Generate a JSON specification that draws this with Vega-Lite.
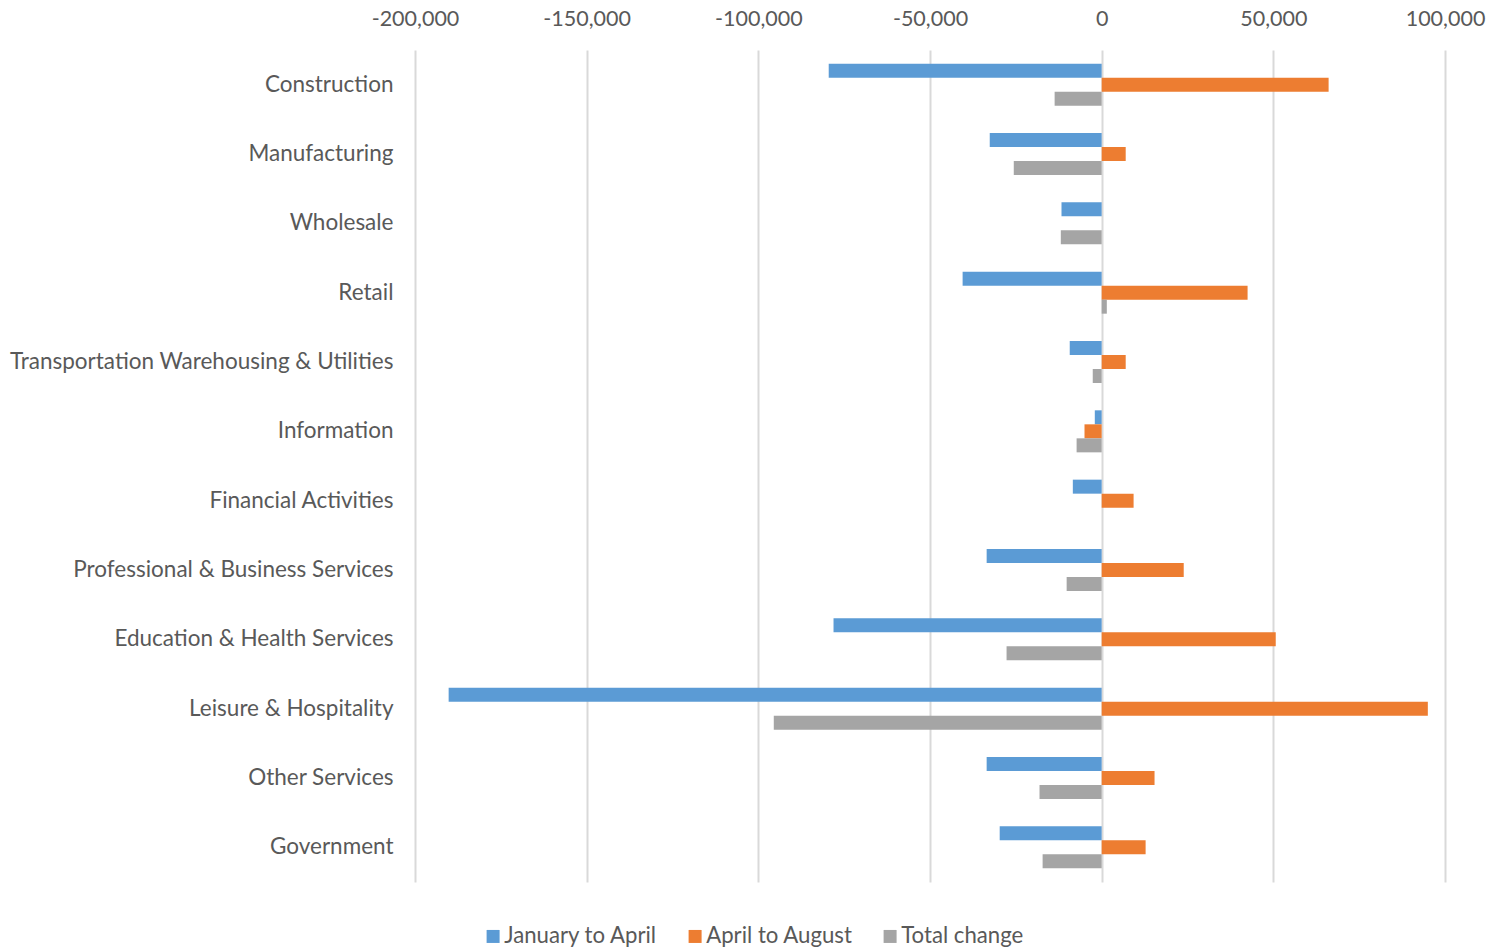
{
  "$schema": "https://vega.github.io/schema/vega-lite/v6.json",
  "width": 1030,
  "height": 832,
  "autosize": "none",
  "padding": {"left": 415, "top": 50, "right": 44, "bottom": 65},
  "background": "white",
  "config": {
    "view": {"stroke": null},
    "font": "Lato"
  },
  "data": {
    "values": [
      {"sector": "Construction", "series": "January to April", "value": -79500},
      {"sector": "Construction", "series": "April to August", "value": 66100},
      {"sector": "Construction", "series": "Total change", "value": -13700},
      {"sector": "Manufacturing", "series": "January to April", "value": -32600},
      {"sector": "Manufacturing", "series": "April to August", "value": 7000},
      {"sector": "Manufacturing", "series": "Total change", "value": -25600},
      {"sector": "Wholesale", "series": "January to April", "value": -11700},
      {"sector": "Wholesale", "series": "April to August", "value": 0},
      {"sector": "Wholesale", "series": "Total change", "value": -11900},
      {"sector": "Retail", "series": "January to April", "value": -40500},
      {"sector": "Retail", "series": "April to August", "value": 42500},
      {"sector": "Retail", "series": "Total change", "value": 1500},
      {"sector": "Transportation Warehousing & Utilities", "series": "January to April", "value": -9300},
      {"sector": "Transportation Warehousing & Utilities", "series": "April to August", "value": 7000},
      {"sector": "Transportation Warehousing & Utilities", "series": "Total change", "value": -2600},
      {"sector": "Information", "series": "January to April", "value": -2000},
      {"sector": "Information", "series": "April to August", "value": -5000},
      {"sector": "Information", "series": "Total change", "value": -7300},
      {"sector": "Financial Activities", "series": "January to April", "value": -8400},
      {"sector": "Financial Activities", "series": "April to August", "value": 9300},
      {"sector": "Financial Activities", "series": "Total change", "value": 0},
      {"sector": "Professional & Business Services", "series": "January to April", "value": -33500},
      {"sector": "Professional & Business Services", "series": "April to August", "value": 23900},
      {"sector": "Professional & Business Services", "series": "Total change", "value": -10200},
      {"sector": "Education & Health Services", "series": "January to April", "value": -78100},
      {"sector": "Education & Health Services", "series": "April to August", "value": 50700},
      {"sector": "Education & Health Services", "series": "Total change", "value": -27700},
      {"sector": "Leisure & Hospitality", "series": "January to April", "value": -190200},
      {"sector": "Leisure & Hospitality", "series": "April to August", "value": 95000},
      {"sector": "Leisure & Hospitality", "series": "Total change", "value": -95500},
      {"sector": "Other Services", "series": "January to April", "value": -33500},
      {"sector": "Other Services", "series": "April to August", "value": 15400},
      {"sector": "Other Services", "series": "Total change", "value": -18100},
      {"sector": "Government", "series": "January to April", "value": -29700},
      {"sector": "Government", "series": "April to August", "value": 12800},
      {"sector": "Government", "series": "Total change", "value": -17200}
    ]
  },
  "mark": {"type": "bar"},
  "encoding": {
    "y": {
      "field": "sector",
      "type": "nominal",
      "sort": null,
      "scale": {"paddingInner": 0.394, "paddingOuter": 0.197},
      "axis": {
        "title": null,
        "domain": false,
        "ticks": false,
        "labelPadding": 22,
        "labelFontSize": 22.5,
        "labelColor": "#595959",
        "labelLimit": 500
      }
    },
    "yOffset": {
      "field": "series",
      "type": "nominal",
      "sort": ["January to April", "April to August", "Total change"],
      "scale": {"paddingInner": 0, "paddingOuter": 0}
    },
    "x": {
      "field": "value",
      "type": "quantitative",
      "scale": {"domain": [-200000, 100000], "nice": false},
      "axis": {
        "orient": "top",
        "title": null,
        "values": [-200000, -150000, -100000, -50000, 0, 50000, 100000],
        "labelExpr": "datum.value < 0 ? '-' + format(-datum.value, ',d') : format(datum.value, ',d')",
        "labelFlush": false,
        "labelOverlap": false,
        "domain": false,
        "ticks": false,
        "grid": true,
        "gridColor": "#d9d9d9",
        "gridWidth": 2,
        "labelPadding": 20,
        "labelFontSize": 21.5,
        "labelColor": "#595959"
      }
    },
    "color": {
      "field": "series",
      "type": "nominal",
      "sort": ["January to April", "April to August", "Total change"],
      "scale": {
        "domain": ["January to April", "April to August", "Total change"],
        "range": ["#5B9BD5", "#ED7D31", "#A5A5A5"]
      },
      "legend": {
        "title": null,
        "orient": "none",
        "direction": "horizontal",
        "legendX": 67,
        "legendY": 875,
        "symbolType": "square",
        "symbolSize": 169,
        "symbolStrokeWidth": 0,
        "labelFontSize": 22.2,
        "labelColor": "#595959",
        "columnPadding": 26,
        "symbolOffset": 0,
        "labelOffset": 0
      }
    }
  }
}
